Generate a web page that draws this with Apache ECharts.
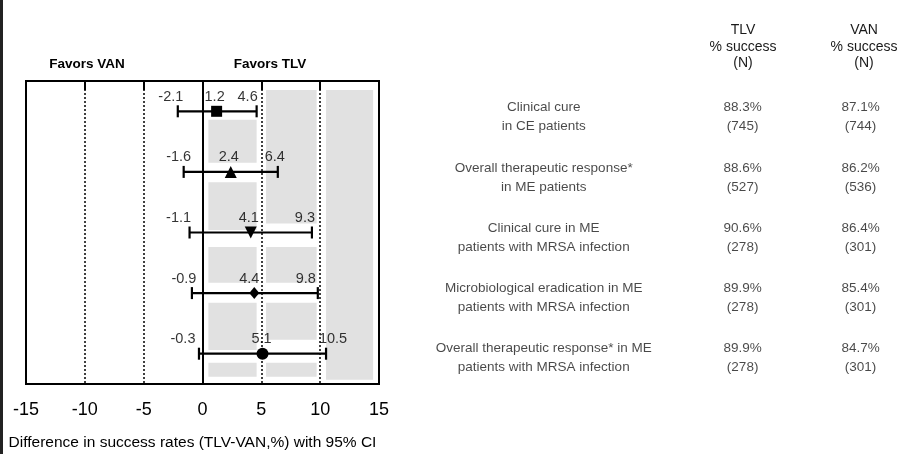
<!DOCTYPE html>
<html><head><meta charset="utf-8">
<script src="https://cdn.jsdelivr.net/npm/echarts@6/dist/echarts.min.js"></script>
<style>html,body{margin:0;padding:0;background:#fff}#c{width:898px;height:454px}</style>
</head><body><div id="c"></div>
<script>
// ---- data ----
const outcomes = [
  'Clinical cure\nin CE patients',
  'Overall therapeutic response*\nin ME patients',
  'Clinical cure in ME\npatients with MRSA infection',
  'Microbiological eradication in ME\npatients with MRSA infection',
  'Overall therapeutic response* in ME\npatients with MRSA infection'
];
const lowerCI  = [-2.1, -1.6, -1.1, -0.9, -0.3];
const estimate = [1.2, 2.4, 4.1, 4.4, 5.1];
const upperCI  = [4.6, 6.4, 9.3, 9.8, 10.5];
const tlvPct = ['88.3%', '88.6%', '90.6%', '89.9%', '89.9%'];
const tlvN   = [745, 527, 278, 278, 278];
const vanPct = ['87.1%', '86.2%', '86.4%', '85.4%', '84.7%'];
const vanN   = [744, 536, 301, 301, 301];
const xMin = -15, xMax = 15, xStep = 5;
const favorLabels = ['Favors VAN', 'Favors TLV'];
const colHeaders = ['TLV\n% success\n(N)', 'VAN\n% success\n(N)'];
const axisTitle = 'Difference in success rates (TLV-VAN,%) with 95% CI';

// ---- styles ----
const SANS = '"Liberation Sans",Arial,sans-serif';
const TABLEF = '"Liberation Sans",Arial,sans-serif';
const markerStyles = [
  {symbol: 'rect', symbolSize: 11, symbolRotate: 0},
  {symbol: 'triangle', symbolSize: 12, symbolRotate: 0},
  {symbol: 'triangle', symbolSize: 12, symbolRotate: 180},
  {symbol: 'diamond', symbolSize: [10, 12], symbolRotate: 0},
  {symbol: 'circle', symbolSize: 12, symbolRotate: 0}
];
// horizontal nudges (px) of the value labels, as laid out in the reference
const lowerNudge = [-7, -5, -11, -8, -16];
const estNudge   = [-2, -2, -2, -5, -1];
const upperNudge = [-9, -3, -7, -12, 7];
// decorative light-grey blotches (x in axis units, y in row units 0..5)
const shadeBlocks = [
  [10.5, 0.15, 14.5, 4.93],
  [5.4, 0.15, 9.7, 2.35],
  [5.4, 2.74, 9.7, 3.33], [5.4, 3.66, 9.7, 4.27], [5.4, 4.65, 9.7, 4.88],
  [0.5, 0.64, 4.6, 1.35], [0.5, 1.67, 4.6, 2.46], [0.5, 2.74, 4.6, 3.33],
  [0.5, 3.66, 4.6, 4.44], [0.5, 4.65, 4.6, 4.88]
];

const chart = echarts.init(document.getElementById('c'), null, {renderer: 'canvas'});

const numLabel = {
  show: true, position: 'top', distance: 7,
  fontFamily: SANS, fontSize: 14.5, color: '#000',
  formatter: p => p.value[0].toFixed(1)
};
const labelData = (vals, nudges) => vals.map((v, i) => ({value: [v, i], label: {offset: [nudges[i], 0]}}));

const option = {
  animation: false,
  backgroundColor: '#fff',
  grid: [
    {left: 26, right: 519, top: 81, bottom: 70, show: true, borderColor: '#000', borderWidth: 2,
     backgroundColor: 'transparent', containLabel: false, outerBoundsMode: 'none'},
    {left: 430, right: 0, top: 87, bottom: 66, show: false, containLabel: false, outerBoundsMode: 'none'}
  ],
  xAxis: [
    {gridIndex: 0, type: 'value', min: xMin, max: xMax, interval: xStep,
     axisLine: {show: true, lineStyle: {color: '#000', width: 2}},
     axisTick: {show: true, length: 9, lineStyle: {color: '#000', width: 2}},
     axisLabel: {color: '#000', fontFamily: SANS, fontSize: 18, margin: 17},
     splitLine: {show: true, lineStyle: {color: '#000', type: [2, 2], width: 1.5}},
     name: axisTitle, nameLocation: 'middle', nameGap: 51,
     nameTextStyle: {color: '#000', fontFamily: SANS, fontSize: 15.5, padding: [0, 20, 0, 0]}},
    {gridIndex: 1, type: 'value', min: 0, max: 1, show: false}
  ],
  yAxis: [
    {gridIndex: 0, type: 'category', data: outcomes, inverse: true, show: false},
    {gridIndex: 0, type: 'value', min: 0, max: 5, inverse: true, show: false},
    {gridIndex: 1, type: 'category', data: outcomes, inverse: true, show: false}
  ],
  graphic: [
    {type: 'rect', left: 0, top: 0, shape: {width: 3, height: 454}, style: {fill: '#222'}},
    {type: 'text', x: 87, y: 64, style: {text: favorLabels[0], x: 0, y: 0, textAlign: 'center', textVerticalAlign: 'middle', font: 'bold 13.5px ' + SANS, fill: '#000'}},
    {type: 'text', x: 270, y: 64, style: {text: favorLabels[1], x: 0, y: 0, textAlign: 'center', textVerticalAlign: 'middle', font: 'bold 13.5px ' + SANS, fill: '#000'}},
    {type: 'text', x: 743, y: 47, style: {text: colHeaders[0], x: 0, y: 0, textAlign: 'center', textVerticalAlign: 'middle', font: '14px ' + TABLEF, lineHeight: 16.5, fill: '#1a1a1a'}},
    {type: 'text', x: 864, y: 47, style: {text: colHeaders[1], x: 0, y: 0, textAlign: 'center', textVerticalAlign: 'middle', font: '14px ' + TABLEF, lineHeight: 16.5, fill: '#1a1a1a'}}
  ],
  series: [
    // grey blotches
    {type: 'line', xAxisIndex: 0, yAxisIndex: 1, data: [], silent: true, z: 0,
     markArea: {silent: true, itemStyle: {color: '#e1e1e1'},
       data: shadeBlocks.map(b => [{coord: [b[0], b[1]]}, {coord: [b[2], b[3]]}])}},
    // error bars
    {type: 'custom', xAxisIndex: 0, yAxisIndex: 0, z: 3,
     data: outcomes.map((o, i) => [lowerCI[i], upperCI[i], i]),
     renderItem: (params, api) => {
       const a = api.coord([api.value(0), api.value(2)]);
       const b = api.coord([api.value(1), api.value(2)]);
       const h = 6;
       const st = {stroke: '#000', lineWidth: 2.2};
       return {type: 'group', children: [
         {type: 'line', shape: {x1: a[0], y1: a[1], x2: b[0], y2: b[1]}, style: st},
         {type: 'line', shape: {x1: a[0], y1: a[1] - h, x2: a[0], y2: a[1] + h}, style: st},
         {type: 'line', shape: {x1: b[0], y1: b[1] - h, x2: b[0], y2: b[1] + h}, style: st}
       ]};
     },
     markLine: {silent: true, symbol: 'none', label: {show: false},
       lineStyle: {color: '#000', type: 'solid', width: 2}, data: [{xAxis: 0}]}},
    // point estimates
    {type: 'scatter', xAxisIndex: 0, yAxisIndex: 0, z: 4,
     data: estimate.map((v, i) => Object.assign({value: [v, i]}, markerStyles[i])),
     itemStyle: {color: '#000', opacity: 1}},
    // value labels
    {type: 'scatter', xAxisIndex: 0, yAxisIndex: 0, symbolSize: 0, z: 5,
     data: labelData(lowerCI, lowerNudge), label: numLabel},
    {type: 'scatter', xAxisIndex: 0, yAxisIndex: 0, symbolSize: 0, z: 5,
     data: labelData(estimate, estNudge), label: numLabel},
    {type: 'scatter', xAxisIndex: 0, yAxisIndex: 0, symbolSize: 0, z: 5,
     data: labelData(upperCI, upperNudge), label: numLabel},
    // table: outcome names
    {type: 'scatter', xAxisIndex: 1, yAxisIndex: 2, symbolSize: 0,
     data: outcomes.map((o, i) => [0.243, i]),
     label: {show: true, position: 'inside', fontFamily: TABLEF, fontSize: 13.5, lineHeight: 19, color: '#1a1a1a', align: 'center',
       formatter: p => outcomes[p.dataIndex]}},
    // table: TLV
    {type: 'scatter', xAxisIndex: 1, yAxisIndex: 2, symbolSize: 0,
     data: tlvPct.map((o, i) => [0.668, i]),
     label: {show: true, position: 'inside', fontFamily: TABLEF, fontSize: 13.5, lineHeight: 19, color: '#1a1a1a', align: 'center',
       formatter: p => tlvPct[p.dataIndex] + '\n(' + tlvN[p.dataIndex] + ')'}},
    // table: VAN
    {type: 'scatter', xAxisIndex: 1, yAxisIndex: 2, symbolSize: 0,
     data: vanPct.map((o, i) => [0.92, i]),
     label: {show: true, position: 'inside', fontFamily: TABLEF, fontSize: 13.5, lineHeight: 19, color: '#1a1a1a', align: 'center',
       formatter: p => vanPct[p.dataIndex] + '\n(' + vanN[p.dataIndex] + ')'}}
  ]
};
chart.setOption(option);
</script>
</body></html>
